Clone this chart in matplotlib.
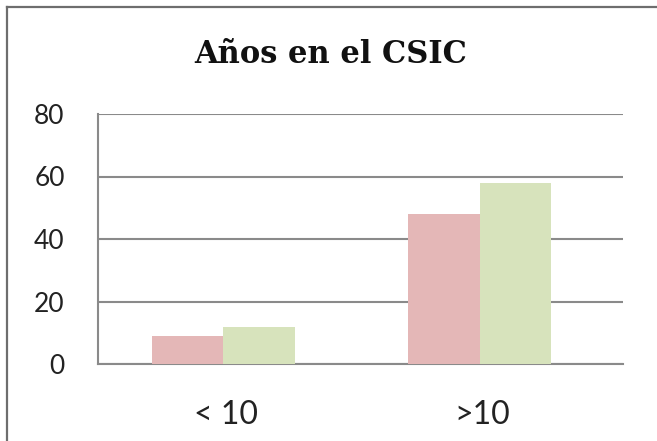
import matplotlib
matplotlib.use('Agg')
import matplotlib.pyplot as plt
import numpy as np
from matplotlib.lines import Line2D

# data
categorias = ['< 10', '>10']
serie_rosa = [9, 48]
serie_verde = [12, 58]
yticks = [0, 20, 40, 60, 80]

color_rosa = '#E4B7B7'
color_verde = '#D7E3BC'
gris = '#8a8a8a'

fig = plt.figure(figsize=(6.57, 4.41), dpi=100)
ax = fig.add_axes([98 / 657, 1 - 364 / 441, 525 / 657, 250 / 441])

x = np.arange(len(categorias))
w = 0.28
ax.bar(x - w / 2 - 0.01, serie_rosa, width=w, color=color_rosa, zorder=3)
ax.bar(x + w / 2 - 0.01, serie_verde, width=w, color=color_verde, zorder=3)

ax.set_xlim(-0.5, 1.55)
ax.set_ylim(0, 80)
ax.set_yticks(yticks)
ax.set_xticks(x)
ax.set_xticklabels(categorias, family='Lato', fontsize=23, color='#222222')
ax.set_yticklabels([str(v) for v in yticks], family='Lato', fontsize=19, color='#222222')
ax.tick_params(axis='y', length=0, pad=24)
ax.tick_params(axis='x', length=0, pad=26)

ax.grid(axis='y', color=gris, linewidth=1.5, zorder=1)
for s in ['top', 'right']:
    ax.spines[s].set_visible(False)
for s in ['left', 'bottom']:
    ax.spines[s].set_color(gris)
    ax.spines[s].set_linewidth(1.5)

# title
fig.text(331 / 657, 1 - 63 / 441, 'Años en el CSIC', ha='center', va='baseline',
         family='DejaVu Serif', fontweight='bold', fontsize=22, color='#111111')

# outer frame (top and left edges visible)
fig.add_artist(Line2D([7 / 657, 1.0], [1 - 7 / 441, 1 - 7 / 441], color='#6e6e6e', linewidth=1.6))
fig.add_artist(Line2D([7 / 657, 7 / 657], [0.0, 1 - 7 / 441], color='#6e6e6e', linewidth=1.6))

plt.savefig('out.png', dpi=100)
